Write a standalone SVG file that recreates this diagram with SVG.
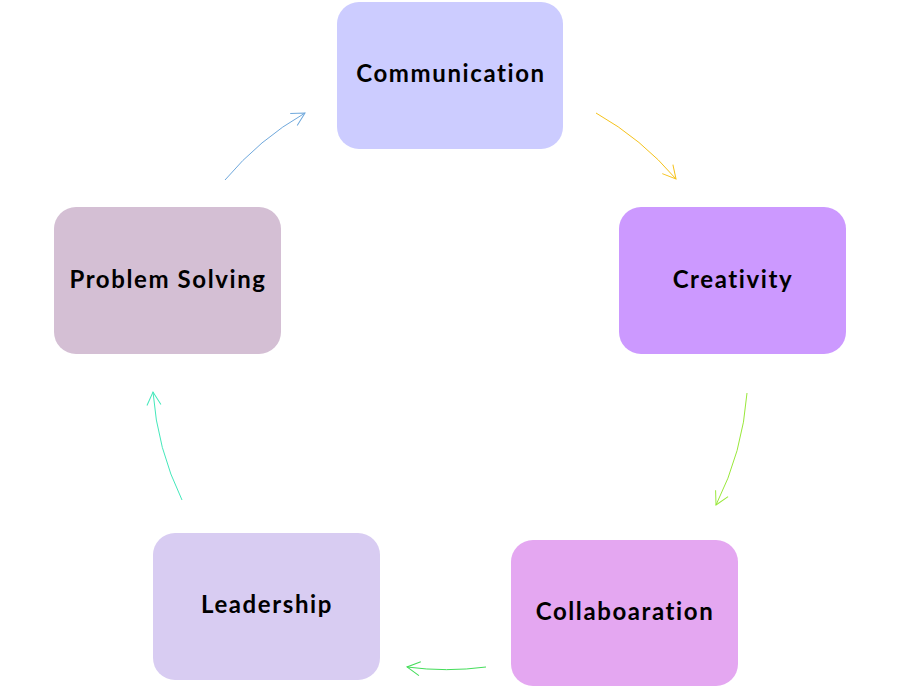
<svg xmlns="http://www.w3.org/2000/svg" width="900" height="697" viewBox="0 0 900 697">
<style>
.box{stroke:none}
.lbl{font-family:Lato,"Open Sans","Liberation Sans",sans-serif;font-weight:700;font-size:24px;letter-spacing:1.6px;fill:#000;text-anchor:middle}
.c{fill:none;stroke-width:1}
</style>
<defs>
<marker id="mb" markerUnits="userSpaceOnUse" markerWidth="20" markerHeight="20" viewBox="-14 -10 16 20" refX="0" refY="0" orient="auto"><path d="M-13,-7 L0,0 L-13,7" fill="none" stroke="#6fa8dc" stroke-width="1"/></marker>
<marker id="my" markerUnits="userSpaceOnUse" markerWidth="20" markerHeight="20" viewBox="-14 -10 16 20" refX="0" refY="0" orient="auto"><path d="M-13,-7 L0,0 L-13,7" fill="none" stroke="#f5c21a" stroke-width="1"/></marker>
<marker id="mg1" markerUnits="userSpaceOnUse" markerWidth="20" markerHeight="20" viewBox="-14 -10 16 20" refX="0" refY="0" orient="auto"><path d="M-13,-7 L0,0 L-13,7" fill="none" stroke="#99e83a" stroke-width="1"/></marker>
<marker id="mg2" markerUnits="userSpaceOnUse" markerWidth="20" markerHeight="20" viewBox="-14 -10 16 20" refX="0" refY="0" orient="auto"><path d="M-13,-7 L0,0 L-13,7" fill="none" stroke="#44dd5a" stroke-width="1"/></marker>
<marker id="mt" markerUnits="userSpaceOnUse" markerWidth="20" markerHeight="20" viewBox="-14 -10 16 20" refX="0" refY="0" orient="auto"><path d="M-13,-7 L0,0 L-13,7" fill="none" stroke="#44e8bb" stroke-width="1"/></marker>
</defs>
<rect width="900" height="697" fill="#fff"/>
<g id="connectors">
<path class="c" d="M225,180 A297,297 0 0 1 305,113" stroke="#6fa8dc" marker-end="url(#mb)"/>
<path class="c" d="M596,113 A297,297 0 0 1 676,179" stroke="#f5c21a" marker-end="url(#my)"/>
<path class="c" d="M747,393 A297,297 0 0 1 716,505" stroke="#99e83a" marker-end="url(#mg1)"/>
<path class="c" d="M486,667 A297,297 0 0 1 407,667" stroke="#44dd5a" marker-end="url(#mg2)"/>
<path class="c" d="M182,500 A297,297 0 0 1 153,392" stroke="#44e8bb" marker-end="url(#mt)"/>
</g>
<g id="communication">
<rect class="box" x="337" y="2" width="226" height="147" rx="22" fill="#ccccff"/>
<text class="lbl" x="451" y="82">Communication</text>
</g>
<g id="creativity">
<rect class="box" x="619" y="207" width="227" height="147" rx="22" fill="#cc99ff"/>
<text class="lbl" x="733" y="288">Creativity</text>
</g>
<g id="collaboaration">
<rect class="box" x="511" y="540" width="227" height="146" rx="22" fill="#e4a7f1"/>
<text class="lbl" x="625" y="620">Collaboaration</text>
</g>
<g id="leadership">
<rect class="box" x="153" y="533" width="227" height="147" rx="22" fill="#d8ccf2"/>
<text class="lbl" x="267" y="613">Leadership</text>
</g>
<g id="problem-solving">
<rect class="box" x="54" y="207" width="227" height="147" rx="22" fill="#d4bfd4"/>
<text class="lbl" x="168" y="288">Problem Solving</text>
</g>
</svg>
